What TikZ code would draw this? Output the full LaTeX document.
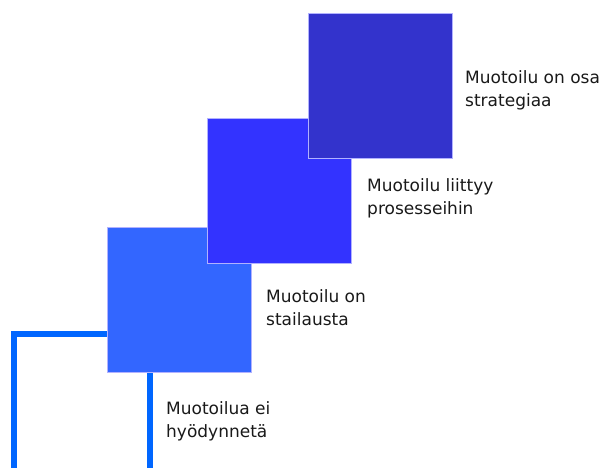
\documentclass[tikz,border=0pt]{standalone}
\usepackage{fontspec}
\setmainfont{DejaVu Sans}
\usetikzlibrary{positioning}
\definecolor{stepone}{HTML}{3366FF}
\definecolor{steptwo}{HTML}{3333FF}
\definecolor{stepthree}{HTML}{3333CC}
\definecolor{framecol}{HTML}{0066FF}
\begin{document}
\begin{tikzpicture}[x=1pt,y=-1pt,
  square/.style={rectangle, anchor=north west, inner sep=0pt,
    minimum width=144pt, minimum height=145pt, draw=white!70!blue, line width=0.4pt},
  label/.style={anchor=west, align=left, inner sep=0pt, text=black!90,
    font=\fontsize{17}{23}\selectfont}
  ]
  \useasboundingbox (0,0) rectangle (602,468);
  \draw[framecol, line width=6pt] (14,471) -- (14,334) -- (150,334) -- (150,471);
  \node[square, fill=stepone] (sqone) at (107,227) {};
  \node[square, fill=steptwo] (sqtwo) at (207,118) {};
  \node[square, fill=stepthree] (sqthree) at (308,13) {};
  \node[label] (lblone) at (166,421) {Muotoilua ei\\hyödynnetä};
  \node[label] (lbltwo) at (266,308) {Muotoilu on\\stailausta};
  \node[label] (lblthree) at (367,198) {Muotoilu liittyy\\prosesseihin};
  \node[label] (lblfour) at (465,90) {Muotoilu on osa\\strategiaa};
\end{tikzpicture}
\end{document}
